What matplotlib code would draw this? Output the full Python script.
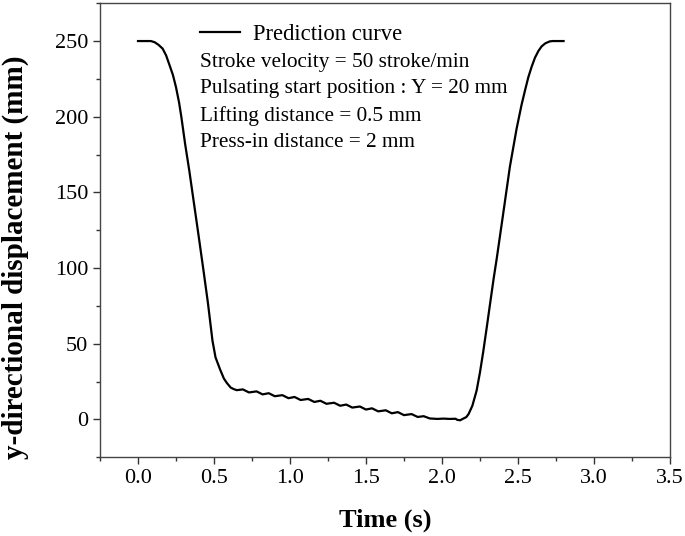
import matplotlib
matplotlib.use("Agg")
import matplotlib.pyplot as plt
from matplotlib.ticker import MultipleLocator

plt.rcParams['font.family'] = ['Liberation Serif', 'DejaVu Serif']

# values
time_s = [0.00, 0.085, 0.11, 0.135, 0.162, 0.185, 0.206, 0.23, 0.25, 0.27, 0.285,
          0.31, 0.338, 0.365, 0.395, 0.43, 0.46, 0.49, 0.51, 0.54, 0.565, 0.585,
          0.61, 0.63,
          0.65, 0.69, 0.73, 0.78, 0.82, 0.86, 0.90, 0.95, 0.99, 1.03, 1.07, 1.12,
          1.16, 1.20, 1.24, 1.29, 1.33, 1.37, 1.41, 1.46, 1.50, 1.54, 1.58, 1.63,
          1.67, 1.71, 1.75, 1.80, 1.84, 1.88, 1.92, 1.97, 2.01, 2.05, 2.09, 2.10,
          2.12, 2.14, 2.16, 2.175, 2.20, 2.228, 2.25, 2.272, 2.295, 2.316, 2.34,
          2.36, 2.403, 2.447, 2.491, 2.524, 2.548, 2.568, 2.59, 2.612, 2.635,
          2.656, 2.68, 2.71, 2.73, 2.80]
y_disp = [250, 250, 249.2, 247.5, 245, 240.5, 234.5, 227.5, 219.5, 209.5, 200,
          182, 164, 145, 124, 99, 77, 52, 41, 33, 27, 24,
          21, 20,
          19.3, 19.8, 17.8, 18.5, 16.5, 17.3, 15.3, 16.0, 14.0, 14.8, 12.8, 13.5,
          11.5, 12.3, 10.3, 11.0, 9.0, 9.8, 7.8, 8.5, 6.5, 7.3, 5.3, 6.0,
          4.0, 4.8, 2.8, 3.5, 1.6, 2.1, 0.6, 0.3, 0.5, 0.3, 0.4, -0.3,
          -0.6, 0.5, 1.5, 3.5, 9, 19, 31, 45, 61, 76, 93,
          106, 136, 167, 192, 208, 218, 226, 233, 239, 243.5,
          246.5, 248.5, 249.8, 250, 250]

notes = ["Stroke velocity = 50 stroke/min",
         "Pulsating start position : Y = 20 mm",
         "Lifting distance = 0.5 mm",
         "Press-in distance = 2 mm"]

fig = plt.figure(figsize=(6.85, 5.36), dpi=100)
ax = fig.add_axes([0.146, 0.147, 0.832, 0.847])

ax.plot(time_s, y_disp, color='black', lw=1.6, label='Prediction curve')

ax.set_xlim(-0.25, 3.5)
ax.set_ylim(-25, 275)
ax.xaxis.set_major_locator(MultipleLocator(0.5))
ax.xaxis.set_minor_locator(MultipleLocator(0.25))
ax.yaxis.set_major_locator(MultipleLocator(50))
ax.yaxis.set_minor_locator(MultipleLocator(25))
ax.xaxis.set_major_formatter(plt.FormatStrFormatter('%.1f'))

ax.tick_params(which='both', direction='out', top=False, right=False,
               labelsize=16, color='#333333', width=1.0)
ax.tick_params(which='major', length=5)
ax.tick_params(which='minor', length=3)
for sp in ax.spines.values():
    sp.set_color('#444444')
    sp.set_linewidth(1.0)

ax.set_xlabel('Time (s)', fontsize=19, fontweight='bold', labelpad=15)
ax.set_ylabel('y-directional displacement (mm)', fontsize=21, fontweight='bold')
ax.yaxis.set_label_coords(-0.125, 0.44)

ax.legend(loc='upper left', bbox_to_anchor=(0.16, 0.975), borderaxespad=0,
          frameon=False, fontsize=16.3, handlelength=1.77, handletextpad=0.58)

y_pos = [0.870, 0.813, 0.751, 0.694]
for txt, yy in zip(notes, y_pos):
    ax.text(0.175, yy, txt, transform=ax.transAxes, fontsize=15.3, va='center', ha='left')

fig.savefig('out.png', dpi=100)
